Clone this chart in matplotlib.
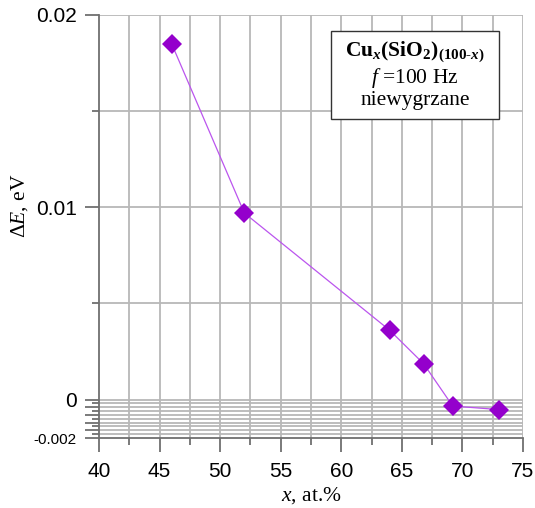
import matplotlib
matplotlib.use("Agg")
import matplotlib.pyplot as plt
import numpy as np
from matplotlib.patches import Rectangle

plt.rcParams['mathtext.fontset'] = 'custom'
plt.rcParams['mathtext.rm'] = 'Liberation Serif'
plt.rcParams['mathtext.it'] = 'Liberation Serif:italic'
plt.rcParams['mathtext.bf'] = 'Liberation Serif:bold'
plt.rcParams['mathtext.bfit'] = 'Liberation Serif:italic:bold'

x_at = [46.0, 52.0, 64.0, 66.8, 69.2, 73.0]
dE = [0.0185, 0.0097, 0.0036, 0.00186, -0.00034, -0.00052]

x_major = [40, 45, 50, 55, 60, 65, 70, 75]
x_labels = ["40", "45", "50", "55", "60", "65", "70", "75"]
y_major = [-0.002, 0.0, 0.01, 0.02]
y_labels = ["-0.002", "0", "0.01", "0.02"]

W, H = 535, 508
fig = plt.figure(figsize=(W / 100, H / 100), dpi=100)
ax = fig.add_axes([99 / W, 1 - 438 / H, (523 - 99) / W, (438 - 15) / H])
ax.set_xlim(40, 75)
ax.set_ylim(-0.002, 0.02)

grid_c = '#b8b8b8'
spine_c = '#707070'
# grid lines
for xv in np.arange(42.5, 75.01, 2.5):
    ax.axvline(xv, color=grid_c, lw=1.3, zorder=0)
for yv in [0.005, 0.01, 0.015, 0.02]:
    ax.axhline(yv, color=grid_c, lw=1.3, zorder=0)
for yv in np.arange(-0.0018, 0.00001, 0.0002):
    ax.axhline(yv, color=grid_c, lw=1.3, zorder=0)

for s in ['top', 'right']:
    ax.spines[s].set_visible(False)
for s in ['left', 'bottom']:
    ax.spines[s].set_color(spine_c)
    ax.spines[s].set_linewidth(1.3)

ax.set_xticks(x_major)
ax.set_xticklabels(x_labels, fontfamily='Liberation Sans', fontsize=15)
ax.set_xticks(np.arange(42.5, 75, 5), minor=True)
ax.tick_params(axis='x', which='major', length=10, width=1.3, color=spine_c, pad=7)
ax.tick_params(axis='x', which='minor', length=5, width=1.3, color=spine_c)

ax.set_yticks(y_major)
ax.set_yticklabels(y_labels, fontfamily='Liberation Sans', fontsize=15)
ax.get_yticklabels()[0].set_fontsize(11)
ax.tick_params(axis='y', which='major', length=10, width=1.3, color=spine_c, pad=6)
ax.tick_params(axis='y', which='minor', length=5, width=1.3, color=spine_c)
ax.set_yticks([0.005, 0.015], minor=True)
# fine ticks below zero
for i in range(1, 10):
    yv = -0.0002 * i
    L = 10 if i % 2 == 0 else 5
    ax.plot([0, -L / 72 * 100 / 424], [yv, yv], transform=ax.get_yaxis_transform(),
            color=spine_c, lw=1.3, clip_on=False, solid_capstyle='butt')

ax.plot(x_at, dE, '-', color='#bb55ee', lw=0.9, zorder=3)
ax.plot(x_at, dE, 'D', color='#9400cc', markersize=10, markeredgewidth=0, zorder=4)

ax.set_xlabel(r"$x$, at.%", fontfamily='Liberation Serif', fontsize=15.5)
ax.xaxis.label.set_va('center')
ax.xaxis.set_label_coords(0.5, -(496 - 438) / 423)
ax.set_ylabel(r"$\Delta E$, eV", fontfamily='Liberation Serif', fontsize=15.5)
ax.yaxis.label.set_va('center')
ax.yaxis.set_label_coords(-(99 - 20) / 424, (438 - 206) / 423)

# annotation box
bx0, bx1, by0, by1 = 331, 499, 31, 119
fig.patches.append(Rectangle((bx0 / W, 1 - by1 / H), (bx1 - bx0) / W, (by1 - by0) / H,
                             transform=fig.transFigure, facecolor='white',
                             edgecolor='#333333', lw=1.0, zorder=5))
cx = (bx0 + bx1) / 2 / W
fig.text(cx, 1 - 52 / H,
         "$\\mathbf{Cu}_{\\mathbfit{x}}\\mathbf{(SiO}_{\\mathbf{2}}\\mathbf{)}_{\\mathbf{(100\u2010}\\mathbfit{x}\\mathbf{)}}$",
         ha='center', va='center', fontsize=15.5, zorder=6)
fig.text(cx, 1 - 78 / H, r"$f$ =100 Hz", ha='center', va='center',
         fontfamily='Liberation Serif', fontsize=15.5, zorder=6)
fig.text(cx, 1 - 101 / H, "niewygrzane", ha='center', va='center',
         fontfamily='Liberation Serif', fontsize=15.5, zorder=6)

fig.savefig("out.png", dpi=100)
